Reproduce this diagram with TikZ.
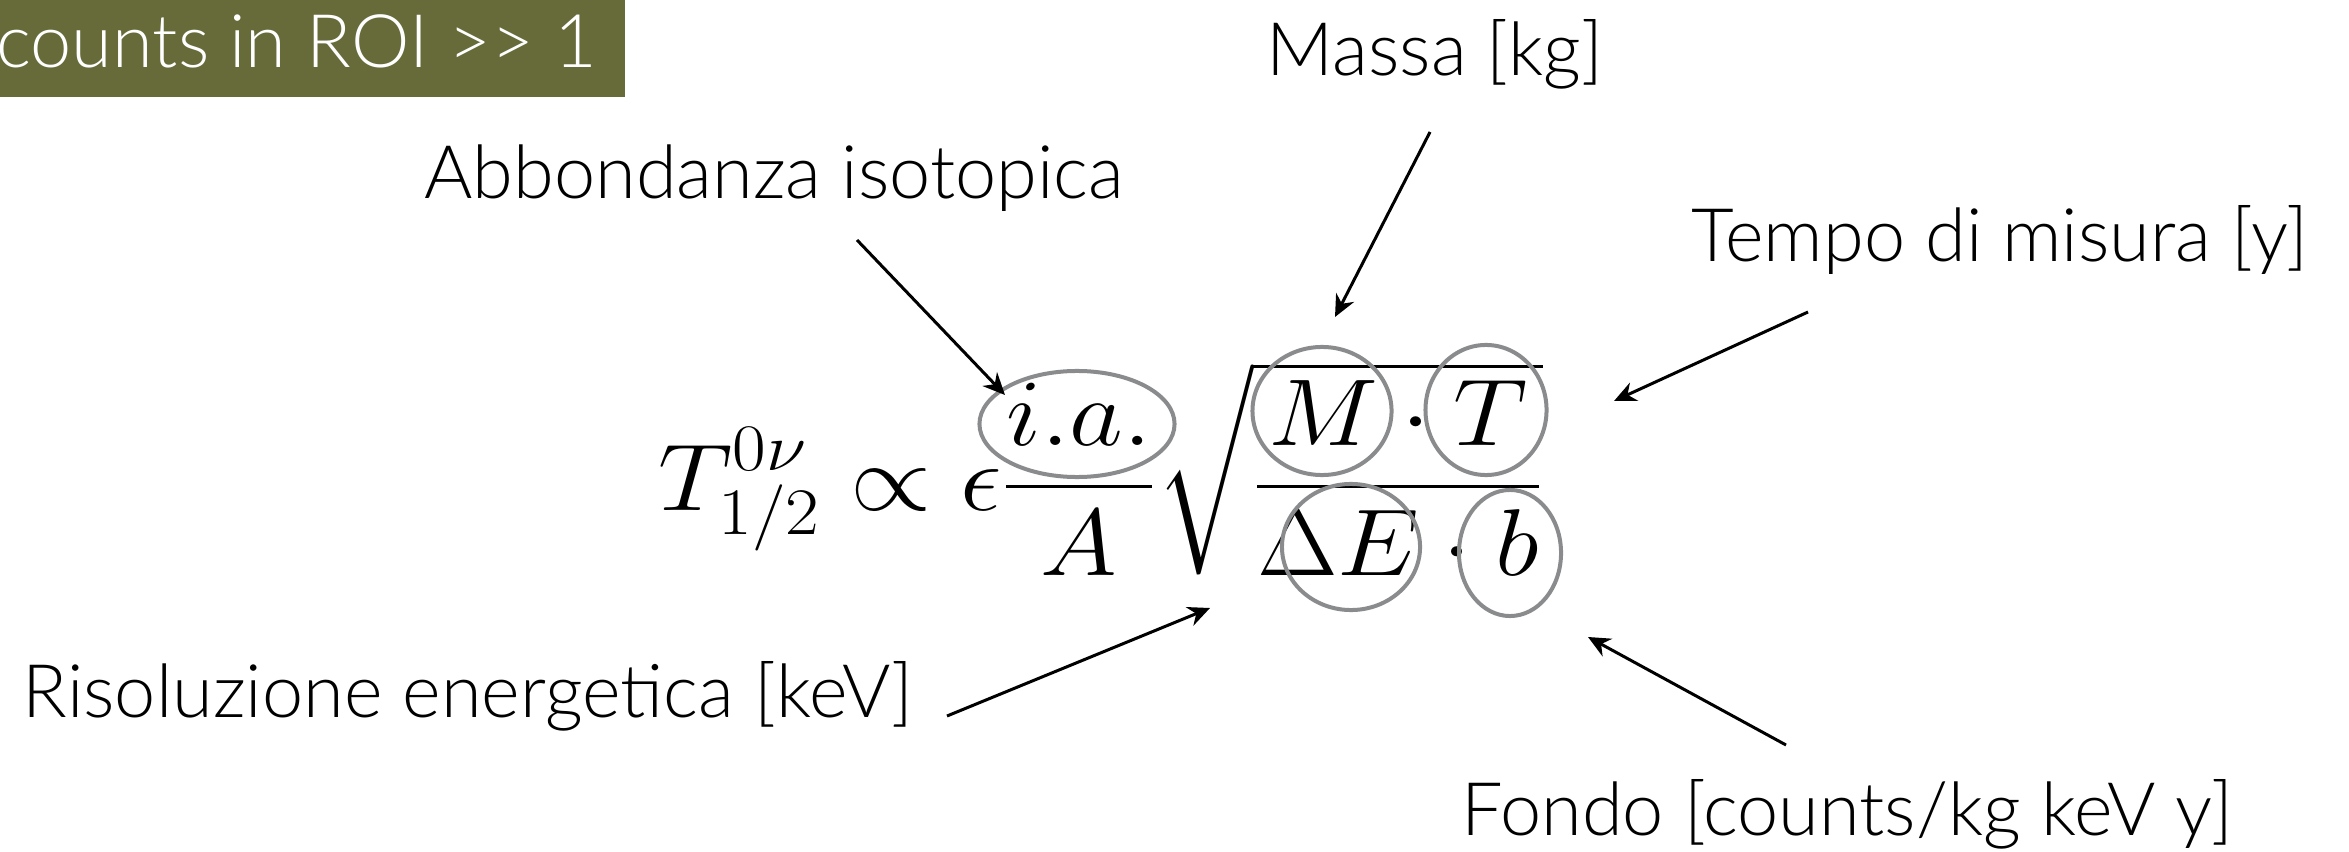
\RequirePackage{fix-cm}
\documentclass[tikz,border=0pt]{standalone}
\usepackage{amsmath}
\usepackage{fontspec}
\setmainfont{Lato Light}
\usepackage{tikz}
\usetikzlibrary{arrows.meta,shapes.geometric}
\definecolor{banner}{HTML}{676B39}
\definecolor{ringgray}{HTML}{8A8B8D}
\tikzset{
  annot/.style={inner sep=0pt, font=\fontsize{21}{25}\selectfont},
  ring/.style={draw=ringgray, line width=0.04cm, ellipse, inner sep=0pt},
  pointer/.style={-{Stealth[length=0.22cm,width=0.2cm]}, line width=0.03cm},
}

\begin{document}
\begin{tikzpicture}[x=0.01cm, y=-0.01cm]
  \useasboundingbox (0,0) rectangle (2349,852);
  \clip (0,0) rectangle (2349,852);

  % --- banner top left ---
  \fill[banner] (-20,-20) rectangle (625,97);
  \node[annot, text=white, anchor=base east] (roi) at (598,68) {counts in ROI >{}> 1};

  % --- formula (a little wider than set, smaller root sign) ---
  \node[anchor=base west, inner sep=0pt, font=\fontsize{27}{32}\selectfont] (eq) at (658,510)
    {\scalebox{1.1}[1]{$\displaystyle T^{0\nu}_{1/2}\propto\epsilon\frac{i.a.}{A}
      \sqrt{\vrule height 31pt depth 13pt width 0pt
        \smash{\frac{M\cdot T}{\Delta E\cdot b}}}$}};

  % --- grey rings round the factors ---
  \node[ring, minimum width=1.95cm, minimum height=1.06cm] (ia) at (1077,424) {};
  \node[ring, minimum width=1.39cm, minimum height=1.28cm] (mass) at (1322,411) {};
  \node[ring, minimum width=1.21cm, minimum height=1.30cm] (time) at (1486,410) {};
  \node[ring, minimum width=1.38cm, minimum height=1.26cm] (res) at (1351,547) {};
  \node[ring, minimum width=1.02cm, minimum height=1.26cm] (bkg) at (1510,553) {};

  % --- labels ---
  \node[annot, anchor=base west] (massa) at (1266,76) {Massa [kg]};
  \node[annot, anchor=base west] (abb) at (424,199) {Abbondanza isotopica};
  \node[annot, anchor=base west] (tempo) at (1691,262) {Tempo di misura [y]};
  \node[annot, anchor=base west] (riso) at (22,717) {Risoluzione energetica [keV]};
  \node[annot, anchor=base west] (fondo) at (1461,835) {Fondo [counts/kg keV y]};

  % --- arrow ends ---
  \coordinate (massa-from) at (1430,132);
  \coordinate (massa-to) at (1335,317);
  \coordinate (abb-from) at (857,240);
  \coordinate (abb-to) at (1005,395);
  \coordinate (tempo-from) at (1808,312);
  \coordinate (tempo-to) at (1614,401);
  \coordinate (riso-from) at (947,716);
  \coordinate (riso-to) at (1210,608);
  \coordinate (fondo-from) at (1786,745);
  \coordinate (fondo-to) at (1588,637);

  \draw[pointer] (massa-from) -- (massa-to);
  \draw[pointer] (abb-from) -- (abb-to);
  \draw[pointer] (tempo-from) -- (tempo-to);
  \draw[pointer] (riso-from) -- (riso-to);
  \draw[pointer] (fondo-from) -- (fondo-to);

\end{tikzpicture}
\end{document}
